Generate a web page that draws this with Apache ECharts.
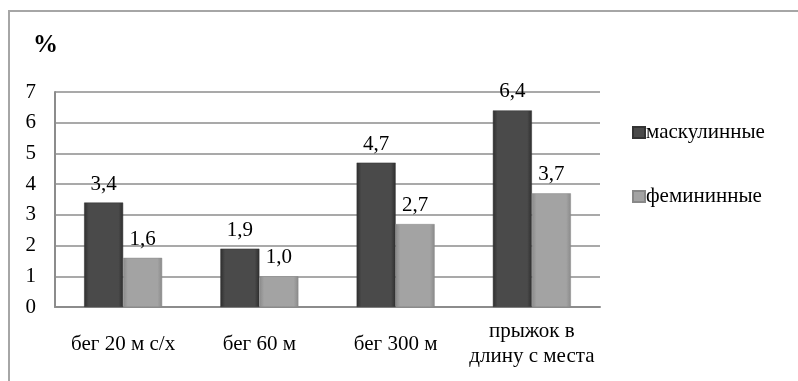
<!DOCTYPE html>
<html>
<head>
<meta charset="utf-8">
<script src="https://cdn.jsdelivr.net/npm/echarts@6/dist/echarts.min.js"></script>
<style>
html,body{margin:0;padding:0;background:#fff;}
#c{width:798px;height:381px;}
</style>
</head>
<body>
<div id="c"></div>
<script>
var categories = ['бег 20 м с/х', 'бег 60 м', 'бег 300 м', 'прыжок в\nдлину с места'];
var seriesNames = ['маскулинные', 'фемининные'];
var masculine = [3.4, 1.9, 4.7, 6.4];
var feminine = [1.6, 1.0, 2.7, 3.7];
var yTicks = [0, 7, 1];

var chart = echarts.init(document.getElementById('c'));
var font = '"Liberation Serif", "Times New Roman", serif';
function grad(edge, mid) {
  return new echarts.graphic.LinearGradient(0, 0, 1, 0, [
    {offset: 0, color: edge}, {offset: 0.12, color: mid},
    {offset: 0.88, color: mid}, {offset: 1, color: edge}
  ]);
}
var fmt = function (p) { return p.value.toFixed(1).replace('.', ','); };
chart.setOption({
  animation: false,
  title: {
    text: '%', left: 28, top: 28,
    textStyle: {fontFamily: font, fontSize: 25, fontWeight: 'bold', color: '#000'}
  },
  graphic: [{
    type: 'rect', silent: true,
    shape: {x: 9, y: 11, width: 820, height: 400},
    style: {fill: 'none', stroke: '#a6a6a6', lineWidth: 2}
  }],
  legend: {
    orient: 'vertical', left: 627, top: 117, itemGap: 43,
    itemWidth: 12, itemHeight: 11, icon: 'rect',
    textStyle: {fontFamily: font, fontSize: 21, color: '#000', padding: [0, 0, 0, -4]},
    data: seriesNames
  },
  grid: {left: 55, right: 198, top: 92, bottom: 74, containLabel: false},
  xAxis: {
    type: 'category', data: categories,
    axisLine: {lineStyle: {color: '#8c8c8c', width: 2}},
    axisTick: {show: false},
    axisLabel: {fontFamily: font, fontSize: 21, color: '#000', margin: 37,
      verticalAlign: 'middle', lineHeight: 25, interval: 0}
  },
  yAxis: {
    type: 'value', min: yTicks[0], max: yTicks[1], interval: yTicks[2],
    axisLine: {show: true, lineStyle: {color: '#8c8c8c', width: 2}},
    axisTick: {show: false},
    splitLine: {lineStyle: {color: '#8c8c8c', width: 1.5}},
    axisLabel: {fontFamily: font, fontSize: 21, color: '#000', margin: 19}
  },
  series: [{
    name: seriesNames[0], type: 'bar', data: masculine,
    barWidth: 39, barGap: '0%',
    itemStyle: {color: grad('#2e2e2e', '#4a4a4a'), borderColor: '#333', borderWidth: 0.5},
    label: {show: true, position: 'top', distance: 8, formatter: fmt,
      fontFamily: font, fontSize: 21, color: '#000'}
  }, {
    name: seriesNames[1], type: 'bar', data: feminine,
    barWidth: 39,
    itemStyle: {color: grad('#8a8a8a', '#a3a3a3'), borderColor: '#888', borderWidth: 0.5},
    label: {show: true, position: 'top', distance: 8, formatter: fmt,
      fontFamily: font, fontSize: 21, color: '#000'}
  }]
});
</script>
</body>
</html>
